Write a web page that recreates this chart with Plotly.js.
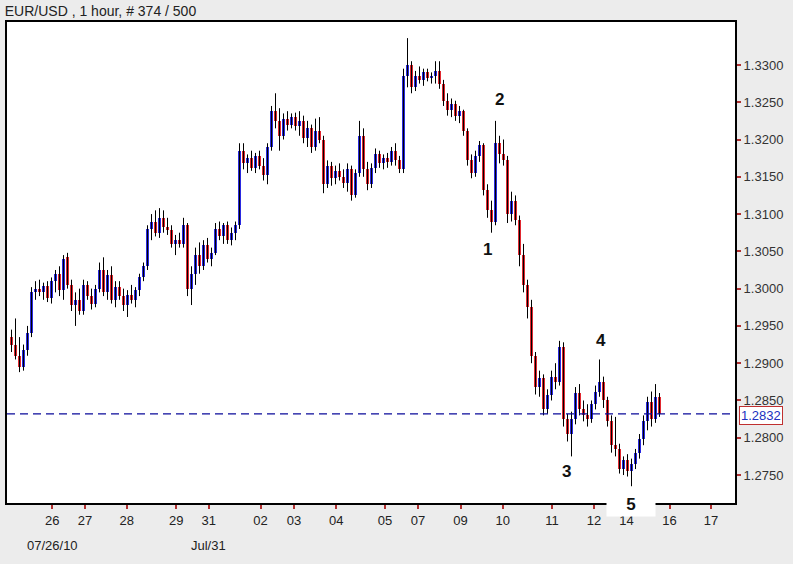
<!DOCTYPE html>
<html>
<head>
<meta charset="utf-8">
<script src="https://cdn.plot.ly/plotly-3.0.1.min.js"></script>
<style>
html,body{margin:0;padding:0;background:#ececec;}
#chart{width:793px;height:564px;}
</style>
</head>
<body>
<div id="chart"></div>
<script>
// ---- data (EUR/USD 1 hour) ----
const openP = [
1.2935,1.2925,1.2910,1.2895,1.2918,1.2940,
1.2995,1.3000,1.2995,1.3003,1.2988,
1.3010,1.3020,1.2998,1.3042,
1.3005,1.2978,1.2985,1.2970,1.3005,1.2990,
1.2980,1.3000,1.3025,1.2995,1.3018,1.2985,
1.3002,1.2990,1.2978,1.2992,1.2985,1.2998,
1.3015,1.3030,1.3080,1.3090,1.3075,1.3095,1.3082,1.3078,
1.3060,1.3065,1.3060,1.3085,1.3000,
1.3020,1.3045,1.3030,1.3058,1.3040,
1.3048,1.3080,1.3070,1.3085,1.3065,1.3075,
1.3085,
1.3185,1.3168,1.3175,1.3162,1.3178,1.3165,1.3152,
1.3190,1.3238,
1.3225,1.3205,1.3228,1.3220,1.3230,1.3218,1.3225,1.3202,1.3215,1.3190,1.3212,
1.3200,1.3140,1.3165,1.3148,1.3158,1.3150,1.3142,1.3160,1.3125,
1.3155,1.3205,1.3160,
1.3140,1.3162,1.3180,1.3168,1.3175,1.3170,1.3185,1.3172,
1.3160,1.3285,
1.3300,1.3270,1.3285,1.3280,1.3290,1.3282,1.3285,
1.3292,1.3275,1.3252,1.3240,1.3248,1.3232,1.3238,
1.3212,1.3172,1.3155,1.3178,
1.3192,1.3132,1.3105,
1.3090,1.3195,1.3180,1.3172,1.3100,1.3118,
1.3092,1.3045,1.3005,1.2975,
1.2910,1.2868,1.2880,
1.2838,1.2858,1.2882,1.2875,
1.2922,1.2825,1.2805,
1.2825,1.2860,1.2838,1.2830,1.2825,
1.2845,1.2862,1.2875,
1.2850,1.2822,1.2790,
1.2785,1.2758,1.2770,1.2755,
1.2765,1.2780,1.2798,
1.2822,1.2848,1.2825,1.2855
];
const highP = [
1.2945,1.2960,1.2935,1.2925,1.2950,1.3002,
1.3010,1.3012,1.3008,1.3010,1.3015,
1.3025,1.3030,1.3045,1.3048,
1.3012,1.2995,1.3000,1.3012,1.3010,1.3000,
1.3005,1.3035,1.3042,1.3025,1.3030,1.3010,
1.3010,1.3000,1.2998,1.3005,1.3002,1.3020,
1.3035,1.3085,1.3100,1.3105,1.3108,1.3105,1.3095,1.3085,
1.3072,1.3075,1.3095,1.3088,1.3030,
1.3055,1.3062,1.3065,1.3068,1.3055,
1.3088,1.3090,1.3088,1.3090,1.3082,1.3090,
1.3195,
1.3195,1.3180,1.3185,1.3182,1.3185,1.3175,1.3195,
1.3245,1.3262,
1.3242,1.3235,1.3238,1.3235,1.3236,1.3238,1.3232,1.3225,1.3220,1.3228,1.3230,
1.3205,1.3172,1.3170,1.3165,1.3168,1.3160,1.3168,1.3165,1.3160,
1.3225,1.3215,1.3170,
1.3168,1.3188,1.3185,1.3180,1.3182,1.3190,1.3195,1.3178,
1.3295,1.3336,
1.3305,1.3292,1.3298,1.3295,1.3295,1.3290,1.3305,
1.3305,1.3280,1.3262,1.3255,1.3252,1.3245,1.3240,
1.3215,1.3180,1.3185,1.3198,
1.3195,1.3140,1.3118,
1.3225,1.3205,1.3200,1.3178,1.3130,1.3125,
1.3098,1.3060,1.3012,1.2985,
1.2915,1.2890,1.2885,
1.2865,1.2890,1.2900,1.2930,
1.2928,1.2832,1.2835,
1.2868,1.2872,1.2850,1.2845,1.2850,
1.2870,1.2905,1.2882,
1.2855,1.2830,1.2828,
1.2792,1.2775,1.2778,1.2772,
1.2785,1.2805,1.2830,
1.2855,1.2862,1.2872,1.2860
];
const lowP = [
1.2915,1.2905,1.2888,1.2890,1.2910,1.2935,
1.2985,1.2990,1.2985,1.2982,1.2980,
1.2995,1.2990,1.2985,1.3000,
1.2970,1.2950,1.2965,1.2965,1.2985,1.2972,
1.2975,1.2995,1.2990,1.2985,1.2980,1.2975,
1.2985,1.2970,1.2962,1.2980,1.2975,1.2990,
1.3010,1.3025,1.3065,1.3070,1.3068,1.3075,1.3072,1.3055,
1.3045,1.3055,1.3055,1.2990,1.2978,
1.3005,1.3020,1.3025,1.3035,1.3030,
1.3045,1.3065,1.3060,1.3060,1.3058,1.3065,
1.3080,
1.3160,1.3155,1.3158,1.3155,1.3160,1.3145,1.3140,
1.3185,1.3215,
1.3185,1.3200,1.3212,1.3215,1.3212,1.3205,1.3195,1.3190,1.3182,1.3185,1.3195,
1.3128,1.3135,1.3138,1.3140,1.3145,1.3135,1.3130,1.3118,1.3122,
1.3150,1.3150,1.3132,
1.3135,1.3155,1.3162,1.3160,1.3162,1.3165,1.3165,1.3155,
1.3155,1.3270,
1.3262,1.3265,1.3275,1.3272,1.3278,1.3275,1.3275,
1.3268,1.3245,1.3232,1.3230,1.3225,1.3222,1.3205,
1.3165,1.3148,1.3150,1.3170,
1.3125,1.3095,1.3075,
1.3085,1.3168,1.3165,1.3088,1.3090,1.3085,
1.3030,1.2995,1.2960,1.2900,
1.2858,1.2855,1.2830,
1.2832,1.2850,1.2865,1.2870,
1.2815,1.2795,1.2775,
1.2818,1.2830,1.2822,1.2815,1.2820,
1.2838,1.2855,1.2840,
1.2815,1.2780,1.2775,
1.2752,1.2750,1.2748,1.2735,
1.2758,1.2772,1.2790,
1.2810,1.2815,1.2820,1.2828
];
const closeP = [
1.2925,1.2910,1.2895,1.2918,1.2940,1.2995,
1.3000,1.2995,1.3003,1.2988,1.3010,
1.3020,1.2998,1.3040,1.3005,
1.2978,1.2985,1.2970,1.3005,1.2990,1.2980,
1.3000,1.3025,1.2995,1.3018,1.2985,1.3002,
1.2990,1.2978,1.2992,1.2985,1.2998,1.3015,
1.3030,1.3080,1.3090,1.3075,1.3095,1.3082,1.3078,1.3060,
1.3065,1.3060,1.3085,1.3000,1.3020,
1.3045,1.3030,1.3058,1.3040,1.3048,
1.3080,1.3070,1.3085,1.3065,1.3075,1.3085,
1.3185,
1.3168,1.3175,1.3162,1.3178,1.3165,1.3152,1.3190,
1.3238,1.3225,
1.3205,1.3228,1.3220,1.3230,1.3218,1.3225,1.3202,1.3215,1.3190,1.3212,1.3200,
1.3140,1.3165,1.3148,1.3158,1.3150,1.3142,1.3160,1.3125,1.3155,
1.3205,1.3160,1.3140,
1.3162,1.3180,1.3168,1.3175,1.3170,1.3185,1.3172,1.3160,
1.3285,1.3300,
1.3270,1.3285,1.3280,1.3290,1.3282,1.3285,1.3292,
1.3275,1.3252,1.3240,1.3248,1.3232,1.3238,1.3212,
1.3172,1.3155,1.3178,1.3192,
1.3132,1.3105,1.3090,
1.3195,1.3180,1.3172,1.3100,1.3118,1.3092,
1.3045,1.3005,1.2975,1.2910,
1.2868,1.2880,1.2838,
1.2858,1.2882,1.2875,1.2922,
1.2825,1.2805,1.2825,
1.2860,1.2838,1.2830,1.2825,1.2845,
1.2862,1.2875,1.2850,
1.2822,1.2790,1.2785,
1.2758,1.2770,1.2755,1.2765,
1.2780,1.2798,1.2822,
1.2848,1.2825,1.2855,1.2832
];
const lastPrice = 1.2832;
// day tick positions (bar index) and labels
const dayTickIdx = [10.2,18.4,28.8,41.2,49.3,62.25,70.6,81.2,93.4,101.6,112.25,122.8,135.1,145.6,153.75,164.5,174.9];
const dayTickText = ["26","27","28","29","31","02","03","04","05","07","09","10","11","12","14","16","17"];
const priceTicks = [1.2750,1.2800,1.2850,1.2900,1.2950,1.3000,1.3050,1.3100,1.3150,1.3200,1.3250,1.3300];
const waveLabels = ["1","2","3","4","5"];
const waveIdx = [119,122,138.75,147.25,154.75];
const waveY = [1.30519,1.32531,1.27541,1.29298,null];

// ---- build traces ----
const n = closeP.length;
const xs = Array.from({length:n},(_,i)=>i);
const wx = [], wy = [];
for (let i=0;i<n;i++){ wx.push(i,i,null); wy.push(lowP[i],highP[i],null); }
const bodyH = [], bodyBase = [], bodyCol = [];
for (let i=0;i<n;i++){
  let d = closeP[i]-openP[i];
  if (Math.abs(d) < 0.00008) d = d>=0 ? 0.00008 : -0.00008;
  bodyH.push(d); bodyBase.push(openP[i]);
  bodyCol.push(closeP[i]>=openP[i] ? '#2a2ae0' : '#e02830');
}
const traces = [
  {type:'scatter', mode:'lines', x:wx, y:wy, line:{color:'#000000', width:1}, hoverinfo:'skip', showlegend:false},
  {type:'bar', x:xs, y:bodyH, base:bodyBase, width:0.75, marker:{color:bodyCol, line:{width:0}}, hoverinfo:'skip', showlegend:false}
];

const annotations = [];
for (let k=0;k<4;k++){
  annotations.push({xref:'x', yref:'y', x:waveIdx[k], y:waveY[k], text:waveLabels[k], showarrow:false,
    font:{family:'Liberation Sans, Arial, sans-serif', size:17, color:'#111', weight:'bold'}, xanchor:'center', yanchor:'middle'});
}
annotations.push({xref:'x', yref:'paper', x:waveIdx[4], y:-0.003, text:waveLabels[4], showarrow:false,
  font:{family:'Liberation Sans, Arial, sans-serif', size:17, color:'#111', weight:'bold'},
  bgcolor:'#ffffff', width:46, height:22, xanchor:'center', yanchor:'middle', align:'center', valign:'middle'});
annotations.push({xref:'paper', yref:'y', x:1, xshift:4, y:lastPrice, yshift:-2, text:lastPrice.toFixed(4), showarrow:false,
  xanchor:'left', yanchor:'middle', bgcolor:'#ffffff', bordercolor:'#c03030', borderwidth:1, borderpad:1,
  font:{family:'Liberation Sans, Arial, sans-serif', size:13, color:'#2030c0'}});
annotations.push({xref:'x', yref:'paper', x:dayTickIdx[0], y:-0.088, text:'07/26/10', showarrow:false,
  xanchor:'center', yanchor:'middle', font:{family:'Liberation Sans, Arial, sans-serif', size:13, color:'#222'}});
annotations.push({xref:'x', yref:'paper', x:dayTickIdx[4], y:-0.088, text:'Jul/31', showarrow:false,
  xanchor:'center', yanchor:'middle', font:{family:'Liberation Sans, Arial, sans-serif', size:13, color:'#222'}});

const layout = {
  width:793, height:564,
  paper_bgcolor:'#ececec', plot_bgcolor:'#ffffff',
  margin:{l:7, r:58, t:22, b:61},
  showlegend:false,
  bargap:0,
  title:{text:'EUR/USD , 1 hour, # 374 / 500', x:0.006, xanchor:'left', xref:'container', y:0.981, yanchor:'middle', yref:'container',
    font:{family:'Liberation Sans Narrow, Liberation Sans, Arial, sans-serif', size:14, color:'#222'}},
  xaxis:{range:[-1.125,180.875], showgrid:false, zeroline:false, showline:true, linecolor:'#000', linewidth:2, mirror:true,
    tickmode:'array', tickvals:dayTickIdx, ticktext:dayTickText, ticks:'outside', ticklen:4, tickcolor:'#b03030', tickwidth:2,
    ticklabelstandoff:0, tickfont:{family:'Liberation Sans, Arial, sans-serif', size:13, color:'#222'}, fixedrange:true},
  yaxis:{range:[1.27125,1.33576], side:'right', showgrid:false, zeroline:false, showline:true, linecolor:'#000', linewidth:2, mirror:true,
    tickmode:'array', tickvals:priceTicks, ticktext:priceTicks.map(v=>v.toFixed(4)), ticks:'outside', ticklen:4, tickcolor:'#b03030', tickwidth:2,
    tickfont:{family:'Liberation Sans, Arial, sans-serif', size:13, color:'#333'}, fixedrange:true},
  shapes:[{type:'line', xref:'paper', yref:'y', x0:0, x1:1, y0:lastPrice, y1:lastPrice, layer:'above',
    line:{color:'#0a0a9a', width:1.2, dash:'8px,5px'}}],
  annotations:annotations
};
Plotly.newPlot('chart', traces, layout, {displayModeBar:false, staticPlot:true});
</script>
</body>
</html>
